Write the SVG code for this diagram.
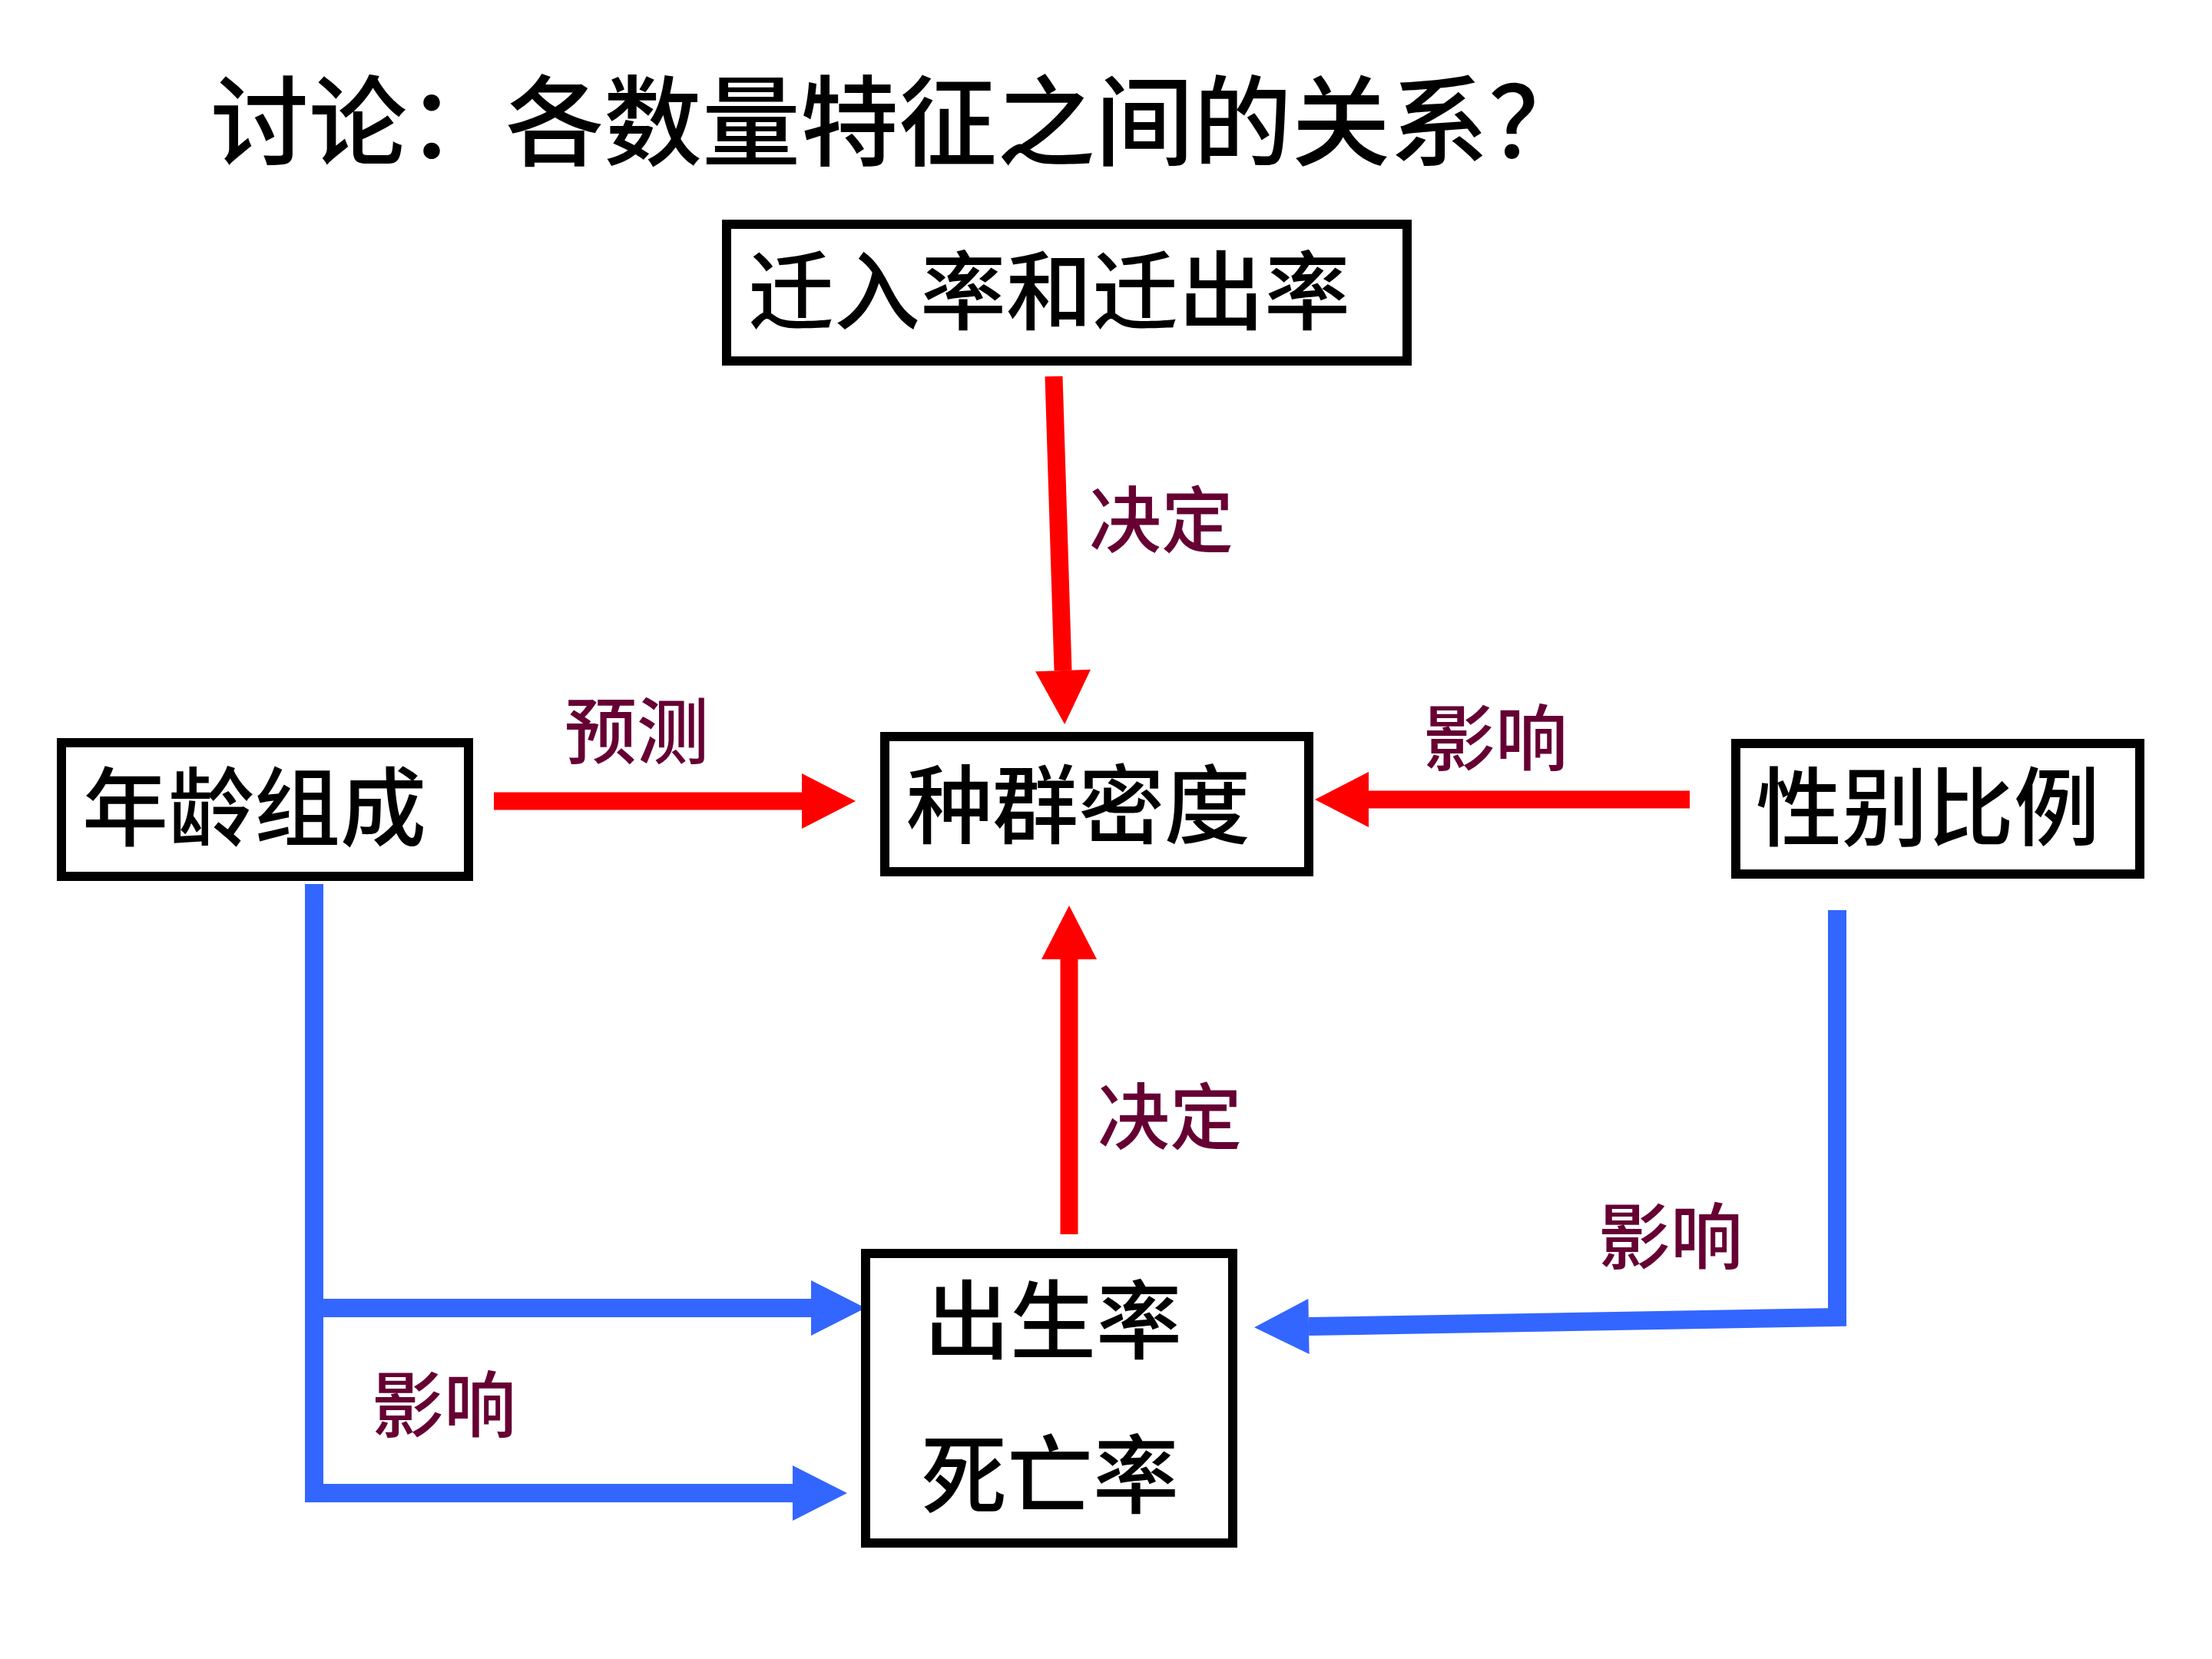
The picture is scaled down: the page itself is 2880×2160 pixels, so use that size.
<svg xmlns="http://www.w3.org/2000/svg" width="2880" height="2160" viewBox="0 0 2880 2160">
<style>
  .box { fill: #FFFFFF; stroke: #000000; stroke-width: 12; }
  .ntxt { font-family: "Noto Sans CJK SC", "Noto Sans CJK TC", sans-serif; font-size: 112px; font-weight: 500; fill: #000000; text-anchor: middle; dominant-baseline: central; }
  .title { font-family: "Noto Sans CJK SC", "Noto Sans CJK TC", sans-serif; font-size: 128px; font-weight: 500; fill: #000000; dominant-baseline: central; }
  .lbl { font-family: "Noto Sans CJK SC", "Noto Sans CJK TC", sans-serif; font-size: 94px; font-weight: 500; fill: #660033; text-anchor: middle; dominant-baseline: central; }
  .red { fill: none; stroke: #FF0000; stroke-width: 23; stroke-linejoin: miter; }
  .blue { fill: none; stroke: #3366FF; stroke-width: 24; stroke-linejoin: miter; }
</style>
<defs>
  <marker id="hRed" markerUnits="userSpaceOnUse" markerWidth="80" markerHeight="80" viewBox="0 -40 80 80" refX="0" refY="0" orient="auto" overflow="visible">
    <path d="M0,-36 L70,0 L0,36 Z" fill="#FF0000"/>
  </marker>
  <marker id="hBlue" markerUnits="userSpaceOnUse" markerWidth="80" markerHeight="80" viewBox="0 -40 80 80" refX="0" refY="0" orient="auto" overflow="visible">
    <path d="M0,-36 L71,0 L0,36 Z" fill="#3366FF"/>
  </marker>
</defs>
<rect width="2880" height="2160" fill="#FFFFFF"/>

<text class="title" x="274" y="150">讨论：各数量特征之间的关系？</text>

<g id="connectors">
  <path class="red" d="M1372,490 L1384,873" marker-end="url(#hRed)"/>
  <path class="red" d="M643,1043 L1044,1043" marker-end="url(#hRed)"/>
  <path class="red" d="M2200,1041 L1782,1041" marker-end="url(#hRed)"/>
  <path class="red" d="M1392,1607 L1392,1249" marker-end="url(#hRed)"/>
  <path class="blue" d="M409,1151 V1944 H1032" marker-end="url(#hBlue)"/>
  <path class="blue" d="M409,1703 H1056" marker-end="url(#hBlue)"/>
  <path class="blue" d="M2392,1185 V1715 L1704,1727" marker-end="url(#hBlue)"/>
  <text class="lbl" x="1512" y="671">决定</text>
  <text class="lbl" x="1523" y="1448">决定</text>
  <text class="lbl" x="829" y="946">预测</text>
  <text class="lbl" x="1947" y="955">影响</text>
  <text class="lbl" x="2175" y="1604">影响</text>
  <text class="lbl" x="578" y="1823">影响</text>
</g>

<g id="node-migration">
  <rect class="box" x="946" y="292" width="886" height="178"/>
  <text class="ntxt" x="1366" y="372">迁入率和迁出率</text>
</g>
<g id="node-age">
  <rect class="box" x="80" y="967" width="530" height="174"/>
  <text class="ntxt" x="331" y="1044">年龄组成</text>
</g>
<g id="node-density">
  <rect class="box" x="1152" y="959" width="552" height="176"/>
  <text class="ntxt" x="1404" y="1041">种群密度</text>
</g>
<g id="node-sex">
  <rect class="box" x="2260" y="968" width="526" height="170"/>
  <text class="ntxt" x="2510" y="1044">性别比例</text>
</g>
<g id="node-birthdeath">
  <rect class="box" x="1127" y="1632" width="478" height="377"/>
  <text class="ntxt" x="1371" y="1712">出生率</text>
  <text class="ntxt" x="1367" y="1913">死亡率</text>
</g>
</svg>
